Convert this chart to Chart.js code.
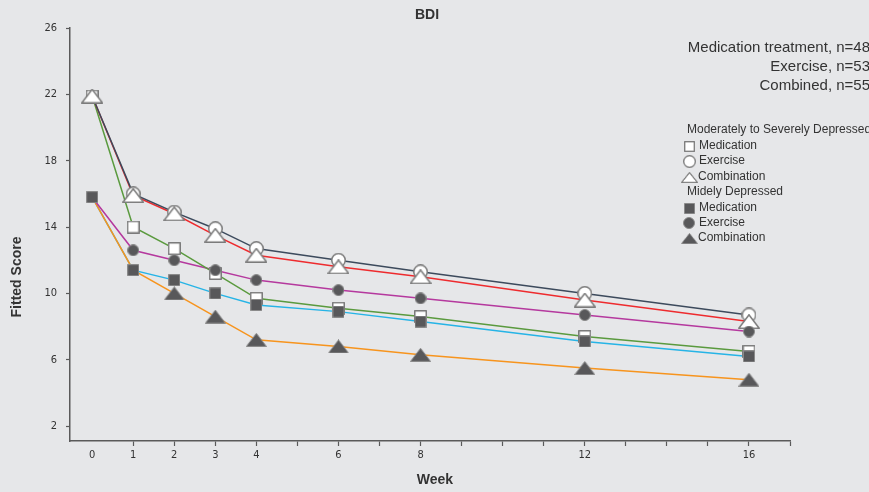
<!DOCTYPE html>
<html>
<head>
<meta charset="utf-8">
<script src="https://cdn.jsdelivr.net/npm/chart.js@4"></script>
<style>
  html, body { margin: 0; padding: 0; background: #e6e7e9; }
  #wrap { width: 869px; height: 492px; position: relative; }
</style>
</head>
<body>
<div id="wrap"><canvas id="c"></canvas></div>
<script>
// Assessment weeks and fitted BDI scores per group
const weeks = [0, 1, 2, 3, 4, 6, 8, 12, 16];
const weekTickMarks = [0, 1, 2, 3, 4, 5, 6, 7, 8, 9, 10, 11, 12, 13, 14, 15, 16, 17];
const scoreTicks = [2, 6, 10, 14, 18, 22, 26];

// Moderately to severely depressed
const modMedication  = [21.9, 14.0, 12.7, 11.2, 9.7, 9.1, 8.6, 7.4, 6.5];
const modExercise    = [21.9, 16.0, 14.9, 13.9, 12.7, 12.0, 11.3, 10.0, 8.7];
const modCombination = [21.9, 15.9, 14.8, 13.5, 12.3, 11.6, 11.0, 9.6, 8.3];
// Mildly depressed
const mildMedication  = [15.8, 11.4, 10.8, 10.0, 9.3, 8.9, 8.3, 7.1, 6.2];
const mildExercise    = [15.8, 12.6, 12.0, 11.4, 10.8, 10.2, 9.7, 8.7, 7.7];
const mildCombination = [15.8, 11.4, 10.0, 8.6, 7.2, 6.8, 6.3, 5.5, 4.8];

const groupNotes = ['Medication treatment, n=48', 'Exercise, n=53', 'Combined, n=55'];

const SANS = "'Liberation Sans', Arial, sans-serif";
const NARROW = "'Liberation Sans Narrow', 'DejaVu Sans Condensed', 'Liberation Sans', sans-serif";
const TEXT = '#333333';
const AXIS = '#5a5a5a';

function marker(shape, w, h, fill, stroke, lw) {
  const c = document.createElement('canvas');
  c.width = w; c.height = h;
  const g = c.getContext('2d');
  g.fillStyle = fill; g.strokeStyle = stroke; g.lineWidth = lw; g.lineJoin = 'round';
  const p = lw / 2;
  g.beginPath();
  if (shape === 'square') g.rect(p, p, w - lw, h - lw);
  else if (shape === 'circle') g.arc(w / 2, h / 2, (w - lw) / 2, 0, Math.PI * 2);
  else { g.moveTo(w / 2, p); g.lineTo(w - p, h - p); g.lineTo(p, h - p); g.closePath(); }
  g.fill();
  if (lw > 0) g.stroke();
  return c;
}

const OPEN_FILL = '#ffffff', OPEN_EDGE = '#7b7b7b';
const SOLID_FILL = '#58585a', SOLID_EDGE = '#8a8a8a';
const mk = {
  openSquare:  marker('square', 13, 13, OPEN_FILL, OPEN_EDGE, 1.5),
  openCircle:  marker('circle', 15, 15, OPEN_FILL, OPEN_EDGE, 1.5),
  openTri:     marker('tri', 22, 15, OPEN_FILL, OPEN_EDGE, 1.5),
  solidSquare: marker('square', 12, 12, SOLID_FILL, SOLID_EDGE, 1),
  solidCircle: marker('circle', 12, 12, SOLID_FILL, SOLID_EDGE, 1),
  solidTri:    marker('tri', 21, 14, SOLID_FILL, SOLID_EDGE, 1)
};

const pts = arr => weeks.map((w, i) => ({ x: w, y: arr[i] }));

function lineSet(label, arr, color, order) {
  return { label, data: pts(arr), borderColor: color, borderWidth: 1.5,
           pointRadius: 0, fill: false, tension: 0, order };
}
// sharedWeeks: weeks where this group's score coincides with the medication
// arm, so only one symbol is shown there
function markerSet(label, arr, style, order, sharedWeeks = []) {
  return { label, data: pts(arr), showLine: false, pointStyle: style,
           pointRadius: c => (sharedWeeks.includes(weeks[c.dataIndex]) ? 0 : 7),
           borderWidth: 0, order };
}

const datasets = [
  lineSet('Moderate exercise', modExercise, '#3c4a5c', 20),
  lineSet('Moderate combination', modCombination, '#ee2b2e', 21),
  lineSet('Moderate medication', modMedication, '#5a9a3e', 22),
  lineSet('Mild exercise', mildExercise, '#b5399e', 23),
  lineSet('Mild combination', mildCombination, '#f7941d', 24),
  lineSet('Mild medication', mildMedication, '#26b4e6', 25),
  markerSet('Moderate medication', modMedication, mk.openSquare, 6),
  markerSet('Moderate exercise', modExercise, mk.openCircle, 5, [0]),
  markerSet('Moderate combination', modCombination, mk.openTri, 4),
  markerSet('Mild combination', mildCombination, mk.solidTri, 3, [0, 1]),
  markerSet('Mild medication', mildMedication, mk.solidSquare, 2),
  markerSet('Mild exercise', mildExercise, mk.solidCircle, 1, [0])
];

// Background, title, axis titles and the group key
const decor = {
  id: 'decor',
  beforeDraw(chart) {
    const g = chart.ctx;
    g.save();
    g.fillStyle = '#e6e7e9';
    g.fillRect(0, 0, chart.width, chart.height);
    g.restore();
  },
  afterDraw(chart) {
    const g = chart.ctx;
    g.save();
    g.fillStyle = TEXT;
    g.textBaseline = 'middle';

    g.font = 'bold 14px ' + SANS;
    g.textAlign = 'center';
    g.fillText('BDI', 427, 15);
    g.fillText('Week', 435, 480);
    g.save();
    g.translate(17, 277);
    g.rotate(-Math.PI / 2);
    g.fillText('Fitted Score', 0, 0);
    g.restore();

    g.font = '15px ' + SANS;
    g.textAlign = 'right';
    groupNotes.forEach((t, i) => g.fillText(t, 870, 48 + i * 19));

    g.font = '12px ' + SANS;
    g.textAlign = 'left';
    const rows = [
      { head: 'Moderately to Severely Depressed', y: 130 },
      { icon: mk.openSquare, w: 11, h: 11, text: 'Medication', y: 146 },
      { icon: mk.openCircle, w: 13, h: 13, text: 'Exercise', y: 161 },
      { icon: mk.openTri, w: 17, h: 11, text: 'Combination', y: 177, tx: 698 },
      { head: 'Midely Depressed', y: 192 },
      { icon: mk.solidSquare, w: 11, h: 11, text: 'Medication', y: 208 },
      { icon: mk.solidCircle, w: 12, h: 12, text: 'Exercise', y: 223 },
      { icon: mk.solidTri, w: 17, h: 11, text: 'Combination', y: 238, tx: 698 }
    ];
    rows.forEach(r => {
      if (r.head) { g.fillText(r.head, 687, r.y); return; }
      g.drawImage(r.icon, Math.round(689 - r.w / 2), Math.round(r.y - r.h / 2), r.w, r.h);
      g.fillText(r.text, r.tx || 699, r.y);
    });
    g.restore();
  }
};

new Chart(document.getElementById('c'), {
  type: 'line',
  data: { datasets },
  plugins: [decor],
  options: {
    responsive: true,
    maintainAspectRatio: false,
    animation: false,
    events: [],
    layout: { padding: { left: 0, top: 28, right: 79, bottom: 0 } },
    plugins: { legend: { display: false }, tooltip: { enabled: false }, title: { display: false } },
    scales: {
      x: {
        type: 'linear',
        min: -0.54, max: 17,
        afterBuildTicks: s => { s.ticks = weekTickMarks.map(v => ({ value: v })); },
        afterFit: s => { s.height = 51; },
        ticks: {
          autoSkip: false, maxRotation: 0, padding: 3, color: TEXT,
          font: { family: NARROW, size: 11 },
          callback: v => (weeks.includes(v) ? String(v) : '')
        },
        grid: {
          drawOnChartArea: false, drawTicks: true, tickLength: 5, tickWidth: 1.2,
          tickColor: c => (c.tick && c.tick.value === 0 ? 'rgba(0,0,0,0)' : AXIS)
        },
        border: { display: true, color: AXIS, width: 1.5 }
      },
      y: {
        min: 1.1, max: 26,
        afterBuildTicks: s => { s.ticks = scoreTicks.map(v => ({ value: v })); },
        afterFit: s => { s.width = 70; },
        ticks: { padding: 9, color: TEXT, font: { family: NARROW, size: 11 } },
        grid: { drawOnChartArea: false, drawTicks: true, tickLength: 4, tickWidth: 1.2, tickColor: AXIS },
        border: { display: true, color: AXIS, width: 1.5 }
      }
    }
  }
});
</script>
</body>
</html>
